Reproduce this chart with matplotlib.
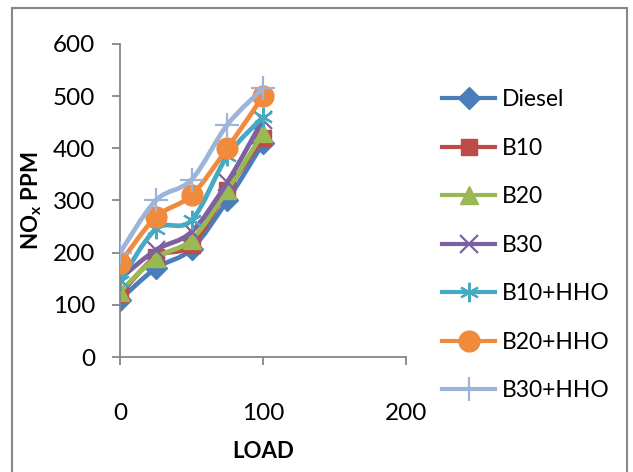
import matplotlib.pyplot as plt
from matplotlib.path import Path
from matplotlib.patches import PathPatch, Rectangle
from matplotlib.lines import Line2D

plt.rcParams['font.family'] = ['Lato', 'DejaVu Sans']

# load steps (x) and NOx readings (ppm) per fuel
load = [0, 25, 50, 75, 100]
diesel = [110, 170, 207, 300, 410]
b10 = [120, 192, 215, 320, 420]
b20 = [125, 190, 225, 320, 430]
b30 = [150, 205, 240, 335, 455]
b10_hho = [145, 245, 262, 385, 460]
b20_hho = [180, 268, 310, 400, 500]
b30_hho = [200, 300, 340, 445, 515]

names = ["Diesel", "B10", "B20", "B30", "B10+HHO", "B20+HHO", "B30+HHO"]
series = [diesel, b10, b20, b30, b10_hho, b20_hho, b30_hho]
colors = ["#4A7EBB", "#BE4B48", "#98B954", "#7D60A0", "#46AAC5", "#F08A3C", "#9DB4DA"]
markers = ["D", "s", "^", "x", (6, 2, 0), "o", "+"]
msizes = [11, 12, 13, 13, 14, 15, 17]


def smooth_path(xs, ys):
    # excel style smoothed line: catmull-rom segments as cubic beziers
    pts = list(zip(xs, ys))
    verts = [pts[0]]
    codes = [Path.MOVETO]
    n = len(pts)
    for i in range(n - 1):
        p0 = pts[max(i - 1, 0)]
        p1 = pts[i]
        p2 = pts[i + 1]
        p3 = pts[min(i + 2, n - 1)]
        c1 = (p1[0] + (p2[0] - p0[0]) / 6, p1[1] + (p2[1] - p0[1]) / 6)
        c2 = (p2[0] - (p3[0] - p1[0]) / 6, p2[1] - (p3[1] - p1[1]) / 6)
        verts += [c1, c2, p2]
        codes += [Path.CURVE4] * 3
    return Path(verts, codes)


fig = plt.figure(figsize=(6.33, 4.72), dpi=100)
ax = fig.add_axes([120 / 633, 115 / 472, 286 / 633, 313 / 472])

handles = []
for i, (name, vals) in enumerate(zip(names, series)):
    z = 2 + i * 0.1
    ax.add_patch(PathPatch(smooth_path(load, vals), fill=False, edgecolor=colors[i],
                           lw=3.4, capstyle='round', joinstyle='round', zorder=z))
    mew = 1.6 if markers[i] in ("x", "+") or isinstance(markers[i], tuple) else 1
    ax.plot(load, vals, linestyle='none', marker=markers[i], markersize=msizes[i],
            color=colors[i], markeredgecolor=colors[i], markeredgewidth=mew, zorder=z + 0.05)
    handles.append(Line2D([], [], color=colors[i], lw=3, marker=markers[i],
                          markersize=msizes[i], markeredgewidth=mew, label=name))

ax.set_xlim(0, 200)
ax.set_ylim(0, 600)
ax.set_xticks([0, 100, 200])
ax.set_yticks(range(0, 601, 100))
for s in ["top", "right"]:
    ax.spines[s].set_visible(False)
for s in ["left", "bottom"]:
    ax.spines[s].set_color("#868686")
    ax.spines[s].set_linewidth(1.3)
ax.tick_params(axis='both', colors="#868686", length=6, width=1.3, labelcolor="black", labelsize=17.5)
ax.tick_params(axis='x', pad=27)
ax.tick_params(axis='y', pad=12)

ax.set_xlabel("LOAD", fontsize=16, fontweight='bold', labelpad=12)
ax.set_ylabel("NO$_\\mathregular{x}$ PPM", fontsize=16, fontweight='bold', labelpad=6)

ax.legend(handles=handles, loc='upper left', bbox_to_anchor=(433 / 633, 1 - 80 / 472),
          bbox_transform=fig.transFigure, frameon=False, fontsize=16.5,
          handlelength=2.3, handletextpad=0.3, labelspacing=1.2, borderaxespad=0)

# outer chart border
fig.add_artist(Rectangle((12 / 633, -0.02), 615 / 633, 1.02 - 8 / 472, transform=fig.transFigure,
                         fill=False, edgecolor="#878787", lw=1.5))

fig.savefig("out.png", dpi=100)
